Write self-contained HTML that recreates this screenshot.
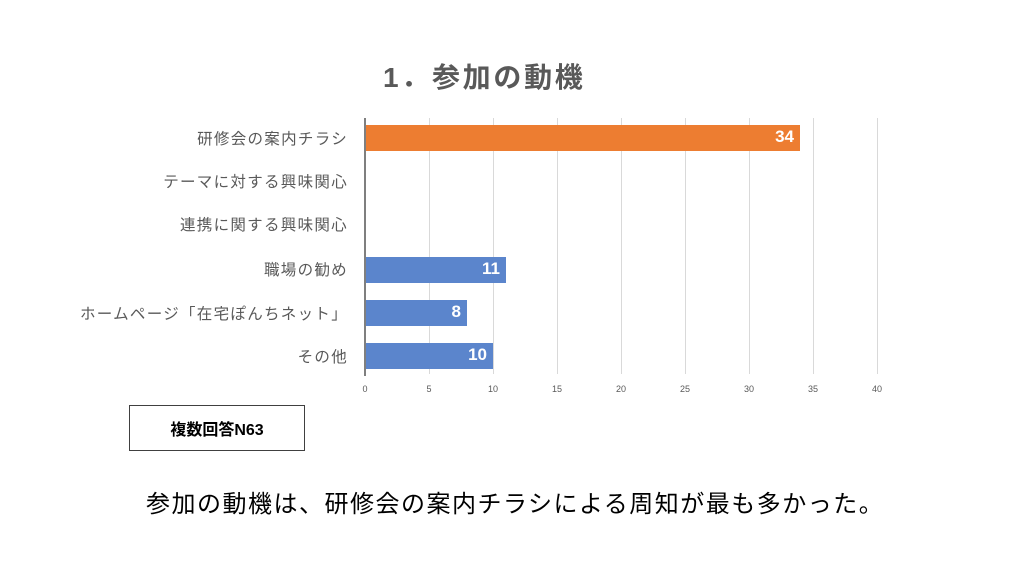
<!DOCTYPE html>
<html><head><meta charset="utf-8"><style>
html,body{margin:0;padding:0;background:#fff;}
body{width:1024px;height:576px;position:relative;overflow:hidden;font-family:"Liberation Sans","Noto Sans CJK JP",sans-serif;}
.a{position:absolute;white-space:nowrap;}
.lbl{position:absolute;right:676px;font-size:15.5px;letter-spacing:1.3px;color:#595959;line-height:20px;}
.grid{position:absolute;top:118px;height:256px;width:1px;background:#d9d9d9;}
.tick{position:absolute;top:384px;font-size:9px;color:#595959;width:30px;text-align:center;}
.bar{position:absolute;height:26px;}
.val{position:absolute;right:6px;top:2px;color:#fff;font-weight:bold;font-size:17px;}
</style></head><body>
<div class="a" style="left:383px;top:56px;font-size:28px;font-weight:bold;color:#595959;letter-spacing:2.7px;">1．参加の動機</div>

<div class="grid" style="left:429px"></div>
<div class="grid" style="left:493px"></div>
<div class="grid" style="left:557px"></div>
<div class="grid" style="left:621px"></div>
<div class="grid" style="left:685px"></div>
<div class="grid" style="left:749px"></div>
<div class="grid" style="left:813px"></div>
<div class="grid" style="left:877px"></div>
<div style="position:absolute;left:364px;top:118px;width:2px;height:258px;background:#7f7f7f"></div>

<div class="bar" style="left:366px;top:125px;width:434px;background:#ed7d31"><span class="val">34</span></div>
<div class="bar" style="left:366px;top:257px;width:140px;background:#5b85cc"><span class="val">11</span></div>
<div class="bar" style="left:366px;top:300px;width:101px;background:#5b85cc"><span class="val">8</span></div>
<div class="bar" style="left:366px;top:343px;width:127px;background:#5b85cc"><span class="val">10</span></div>

<div class="lbl" style="top:130px">研修会の案内チラシ</div>
<div class="lbl" style="top:173px">テーマに対する興味関心</div>
<div class="lbl" style="top:216px">連携に関する興味関心</div>
<div class="lbl" style="top:261px">職場の勧め</div>
<div class="lbl" style="top:305px">ホームページ「在宅ぽんちネット」</div>
<div class="lbl" style="top:348px">その他</div>

<div class="tick" style="left:350px">0</div>
<div class="tick" style="left:414px">5</div>
<div class="tick" style="left:478px">10</div>
<div class="tick" style="left:542px">15</div>
<div class="tick" style="left:606px">20</div>
<div class="tick" style="left:670px">25</div>
<div class="tick" style="left:734px">30</div>
<div class="tick" style="left:798px">35</div>
<div class="tick" style="left:862px">40</div>

<div style="position:absolute;left:129px;top:405px;width:174px;height:44px;border:1px solid #404040;"></div>
<div class="a" style="left:129px;top:416px;width:176px;text-align:center;font-size:16px;font-weight:bold;color:#000;">複数回答N63</div>

<div class="a" style="left:146px;top:484px;font-size:24px;letter-spacing:1.5px;color:#000;">参加の動機は、研修会の案内チラシによる周知が最も多かった。</div>
</body></html>
